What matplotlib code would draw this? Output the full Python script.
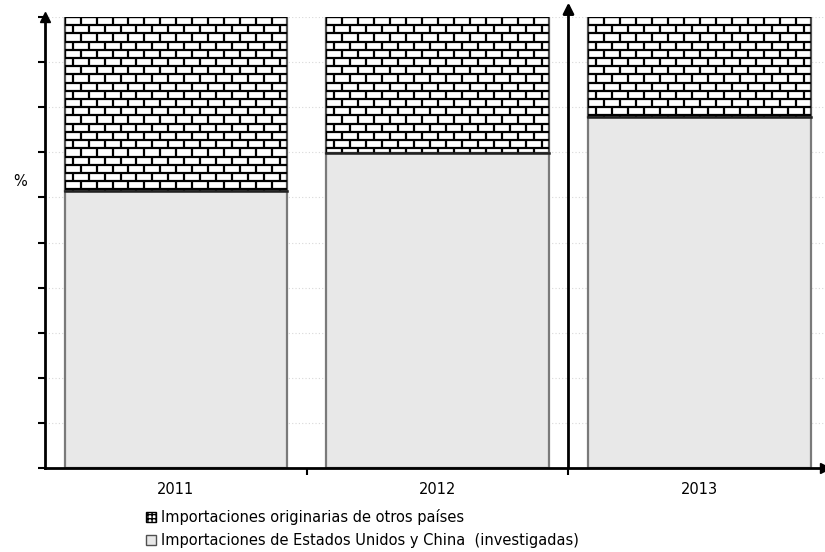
import matplotlib.pyplot as plt
import numpy as np
from matplotlib.collections import LineCollection
from matplotlib.patches import Patch

# values (% of total imports)
years = ["2011", "2012", "2013"]
investigadas = [61.4, 69.8, 77.8]
otros = [38.6, 30.2, 22.2]
labels = [
    "Importaciones originarias de otros países",
    "Importaciones de Estados Unidos y China  (investigadas)",
]


def brick_lines(ax, patch, row_h, brick_w):
    """Draw a brick pattern clipped to a bar patch."""
    x0, y0 = patch.get_x(), patch.get_y()
    x1, y1 = x0 + patch.get_width(), y0 + patch.get_height()
    segs = []
    y = y1
    i = 0
    while y > y0:
        segs.append([(x0, y), (x1, y)])
        off = (brick_w / 2) * (i % 2)
        xs = np.arange(x0 + off, x1 + brick_w, brick_w)
        for x in xs:
            segs.append([(x, y), (x, y - row_h)])
        y -= row_h
        i += 1
    lc = LineCollection(segs, colors="black", linewidths=1.6, zorder=3)
    ax.add_collection(lc)
    lc.set_clip_path(patch)


fig = plt.figure(figsize=(8.25, 5.52), dpi=100)
ax = fig.add_axes([45 / 825, 84 / 552, 780 / 825, 451 / 552])

x = np.arange(len(years))
width = 0.85

bottom_bars = ax.bar(x, investigadas, width, color="#e8e8e8",
                     edgecolor="#7a7a7a", linewidth=1.6, zorder=2)
top_bars = ax.bar(x, otros, width, bottom=investigadas, color="white",
                  edgecolor="#505050", linewidth=1.6, zorder=2)

for p in top_bars.patches:
    brick_lines(ax, p, 1.82, 0.061)
    ax.plot([p.get_x(), p.get_x() + p.get_width()], [p.get_y(), p.get_y()],
            color="#222222", lw=1.8, zorder=4)

ax.set_xlim(-0.5, 2.48)
ax.set_ylim(0, 100)

# axes styling
for s in ["top", "right"]:
    ax.spines[s].set_visible(False)
ax.spines["left"].set_linewidth(2)
ax.spines["bottom"].set_linewidth(2)
ax.plot(0, 1, "^k", ms=7, transform=ax.transAxes, clip_on=False, zorder=6)
ax.plot(1, 0, ">k", ms=7, transform=ax.transAxes, clip_on=False, zorder=6)

# extra arrow between 2012 and 2013
ax.annotate("", xy=(1.5, 103.2), xytext=(1.5, 0),
            arrowprops=dict(arrowstyle="-|>", color="black", lw=2,
                            mutation_scale=16, shrinkA=0, shrinkB=0),
            annotation_clip=False, zorder=6)

ax.set_yticks(np.arange(0, 101, 10))
ax.set_yticklabels([])
ax.tick_params(axis="y", direction="out", length=5, width=1.5)
ax.yaxis.grid(True, linestyle=(0, (1, 2)), color="#d8d8d8", lw=0.8)
ax.set_axisbelow(True)

ax.set_xticks(x)
ax.set_xticklabels(years, fontsize=10.5)
ax.tick_params(axis="x", which="major", length=0, pad=10)
ax.set_xticks([0.5, 1.5], minor=True)
ax.tick_params(axis="x", which="minor", direction="out", length=5, width=1.5)

fig.text(20 / 825, 1 - 181 / 552, "%", fontsize=10.5, ha="center", va="center")

handles = [
    Patch(facecolor="white", edgecolor="black", hatch="++++"),
    Patch(facecolor="#e8e8e8", edgecolor="#505050"),
]
fig.legend(handles, labels, loc="upper left",
           bbox_to_anchor=(146 / 825, 1 - 509 / 552), frameon=False,
           fontsize=10.5, handlelength=0.7, handleheight=0.7,
           handletextpad=0.3, labelspacing=0.55, borderpad=0,
           borderaxespad=0)

fig.savefig("out.png", dpi=100, facecolor="white")
